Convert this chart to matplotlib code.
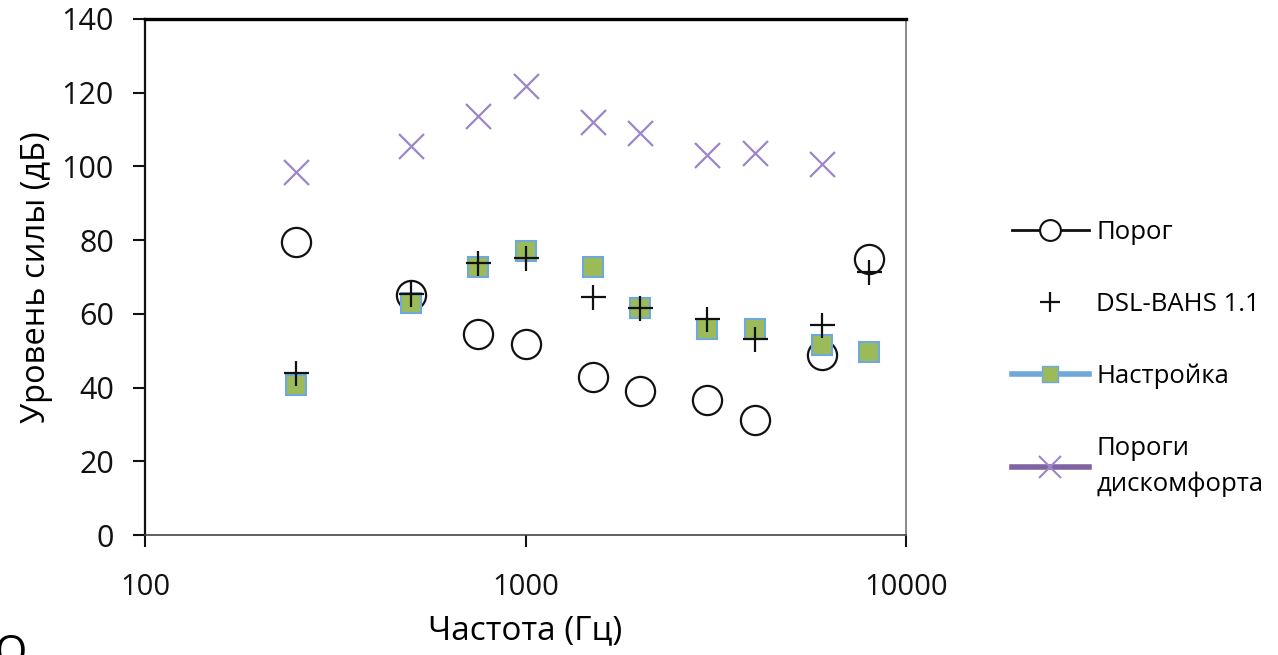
import matplotlib
matplotlib.use("Agg")
import matplotlib.pyplot as plt
from matplotlib.lines import Line2D

plt.rcParams["font.family"] = ["Open Sans", "DejaVu Sans"]

# data
freq = [250, 500, 750, 1000, 1500, 2000, 3000, 4000, 6000, 8000]
porog = [79.5, 65, 54.5, 51.8, 42.9, 39, 36.6, 31.2, 48.8, 74.9]
dsl = [44, 65.4, 73.8, 75.2, 64.6, 61.6, 58.6, 53.2, 57, 71.4]
nastr = [40.7, 63, 72.7, 77, 72.7, 61.6, 56, 56, 51.5, 49.6]
freq_disc = [250, 500, 750, 1000, 1500, 2000, 3000, 4000, 6000]
diskomf = [98.5, 105.5, 113.7, 121.8, 112, 109, 103, 103.6, 100.6]

labels = ["Порог", "DSL-BAHS 1.1", "Настройка", "Пороги\nдискомфорта"]

PURPLE = "#9a86c8"
GREEN = "#9bbb59"
BLUE = "#6fa8dc"

fig = plt.figure(figsize=(12.78, 6.55), dpi=100)
ax = fig.add_axes([0.1135, 0.1832, 0.7089 - 0.1135, 0.971 - 0.1832])

ax.plot(freq_disc, diskomf, ls="none", marker="x", ms=18, mew=1.6, color=PURPLE)
ax.plot(freq, porog, ls="none", marker="o", ms=21, mew=1.6, mfc="none", mec="#111")
ax.plot(freq, nastr, ls="none", marker="s", ms=14, mew=1.5, mfc=GREEN, mec=BLUE)
ax.plot(freq, dsl, ls="none", marker="+", ms=18, mew=1.6, color="#111")

ax.set_xscale("log")
ax.set_xlim(100, 10000)
ax.set_ylim(0, 140)
ax.set_yticks(range(0, 141, 20))
ax.set_xticks([100, 1000, 10000])
ax.set_xticklabels(["100", "1000", "10000"])
ax.xaxis.set_minor_locator(matplotlib.ticker.NullLocator())
ax.tick_params(axis="both", direction="out", length=8.5, width=1.5, labelsize=21,
               colors="#111")
ax.tick_params(axis="y", labelsize=22, pad=14)
ax.tick_params(axis="x", pad=19)

ax.spines["left"].set_linewidth(1.6)
ax.spines["left"].set_color("#111")
ax.spines["top"].set_linewidth(2.4)
ax.spines["top"].set_color("black")
ax.spines["right"].set_linewidth(1.4)
ax.spines["right"].set_color("#888")
ax.spines["bottom"].set_linewidth(1.2)
ax.spines["bottom"].set_color("#444")

ax.set_xlabel("Частота (Гц)", fontsize=24)
ax.set_ylabel("Уровень силы (дБ)", fontsize=23.5)
ax.xaxis.label.set_va("center")
ax.yaxis.label.set_va("center")
ax.yaxis.set_label_coords(-0.143, 0.5)
ax.xaxis.set_label_coords(0.5, -0.186)

handles = [
    Line2D([], [], color="#111", lw=2, marker="o", ms=15, mfc="white", mec="#111", mew=1.5),
    Line2D([], [], ls="none", marker="+", ms=14, mew=1.6, color="#111"),
    Line2D([], [], color=BLUE, lw=4, marker="s", ms=12, mfc=GREEN, mec=BLUE),
    Line2D([], [], color="#8064a2", lw=4, marker="x", ms=16, mew=1.5, mec=PURPLE),
]
leg = fig.legend(handles, labels, loc="upper left", bbox_to_anchor=(0.7735, 0.699),
                 frameon=False, fontsize=18.5, handlelength=3.0, labelspacing=1.82,
                 handletextpad=0.3)
for t in leg.get_texts():
    t.set_linespacing(1.55)

fig.text(-0.004, -0.03, "О", fontsize=30, ha="left", va="bottom")

fig.savefig("out.png", dpi=100)
